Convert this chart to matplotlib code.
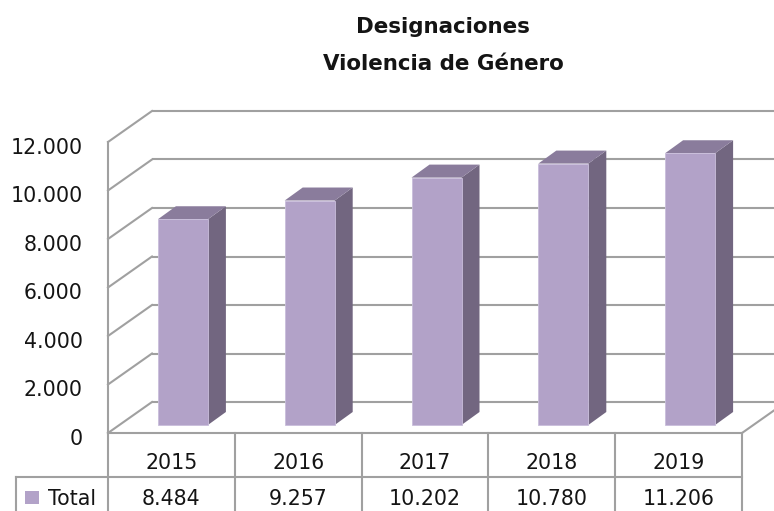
import matplotlib
matplotlib.use("Agg")
import matplotlib.pyplot as plt
from matplotlib.patches import Polygon, Rectangle
from matplotlib.transforms import blended_transform_factory

# ---- data ----
years = ["2015", "2016", "2017", "2018", "2019"]
totals = [8484, 9257, 10202, 10780, 11206]
yticks = [0, 2000, 4000, 6000, 8000, 10000, 12000]
series_name = "Total"
title_lines = ["Designaciones", "Violencia de Género"]

FONT = "DejaVu Sans"
FS = 14.8
C_FRONT = "#b2a2c8"
C_TOP = "#8a7c9c"
C_SIDE = "#726680"
C_GRID = "#a0a0a0"
C_TXT = "#141414"

W, H = 774, 511
fig = plt.figure(figsize=(W / 100, H / 100), dpi=100)
fig.patch.set_facecolor("white")

# front plot area in pixels
x0p, x1p, y0p, y1p = 108, 742, 433, 142
ax = fig.add_axes([x0p / W, (H - y0p) / H, (x1p - x0p) / W, (y0p - y1p) / H])
ax.set_xlim(-0.5, len(years) - 0.5)
ax.set_ylim(0, 12000)
ax.axis("off")

px_x = (len(years)) / (x1p - x0p)      # category units per pixel
px_y = 12000 / (y0p - y1p)              # value units per pixel
DX, DY = 44 * px_x, 31 * px_y           # wall depth
xl, xr = -0.5, len(years) - 0.5

lw = 1.5
# back wall gridlines
for v in yticks:
    ax.plot([xl + DX, xr + DX + 0.3], [v + DY, v + DY], color=C_GRID, lw=lw,
            clip_on=False, zorder=1, solid_capstyle="butt")
    # left wall slants
    ax.plot([xl, xl + DX], [v, v + DY], color=C_GRID, lw=lw, clip_on=False, zorder=1)
# left front vertical
ax.plot([xl, xl], [0, 12000], color=C_GRID, lw=lw, clip_on=False, zorder=1)
# floor right slant
ax.plot([xr, xr + DX], [0, DY], color=C_GRID, lw=lw, clip_on=False, zorder=1)

# bars
bw = 50 * px_x
bdx, bdy = 18 * px_x, 13 * px_y
fx, fy = 11.5 * px_x, 8 * px_y
for i, v in enumerate(totals):
    a = i - bw / 2 + fx
    b = i + bw / 2 + fx
    base = fy
    ax.add_patch(Polygon([(b, base), (b + bdx, base + bdy), (b + bdx, base + bdy + v), (b, base + v)],
                         closed=True, facecolor=C_SIDE, edgecolor="none", zorder=3, clip_on=False))
    ax.add_patch(Polygon([(a, base + v), (b, base + v), (b + bdx, base + bdy + v), (a + bdx, base + bdy + v)],
                         closed=True, facecolor=C_TOP, edgecolor="none", zorder=3, clip_on=False))
    ax.add_patch(Rectangle((a, base), bw, v, facecolor=C_FRONT, edgecolor="#c9bedb",
                           lw=0.6, zorder=4, clip_on=False))

# y tick labels
for v in yticks:
    lab = f"{v:,}".replace(",", ".")
    ax.text(xl - 25 * px_x, v - 11.5 * px_y, lab, ha="right", va="baseline",
            fontsize=FS, family=FONT, color=C_TXT)

# data table
tr = blended_transform_factory(ax.transData, fig.transFigure)
ytop = (H - y0p) / H
ymid = (H - 477) / H
xleg = xl - (x0p - 16) * px_x
for k in range(len(years) + 1):
    ax.plot([xl + k, xl + k], [ytop, 0], color=C_GRID, lw=lw, transform=tr, clip_on=False, zorder=2)
ax.plot([xl, xr], [ytop, ytop], color=C_GRID, lw=lw, transform=tr, clip_on=False, zorder=2)
ax.plot([xleg, xr], [ymid, ymid], color=C_GRID, lw=lw, transform=tr, clip_on=False, zorder=2)
ax.plot([xleg, xleg], [ymid, 0], color=C_GRID, lw=lw, transform=tr, clip_on=False, zorder=2)
for i, (yr, v) in enumerate(zip(years, totals)):
    ax.text(i, (H - 469) / H, yr, ha="center", va="baseline", transform=tr,
            fontsize=FS, family=FONT, color=C_TXT)
    ax.text(i, (H - 505) / H, f"{v:,}".replace(",", "."), ha="center", va="baseline", transform=tr,
            fontsize=FS, family=FONT, color=C_TXT)
# legend key
fig.patches.append(Rectangle((25 / W, (H - 504) / H), 14 / W, 13 / H, transform=fig.transFigure,
                             facecolor=C_FRONT, edgecolor="none"))
fig.text(48 / W, (H - 505) / H, series_name, ha="left", va="baseline", fontsize=FS,
         family=FONT, color=C_TXT)

# title
fig.text(443 / W, (H - 33) / H, title_lines[0], ha="center", va="baseline", fontsize=15.4,
         family=FONT, fontweight="bold", color=C_TXT)
fig.text(443 / W, (H - 70) / H, title_lines[1], ha="center", va="baseline", fontsize=15.4,
         family=FONT, fontweight="bold", color=C_TXT)

fig.savefig("out.png", dpi=100, facecolor="white")
